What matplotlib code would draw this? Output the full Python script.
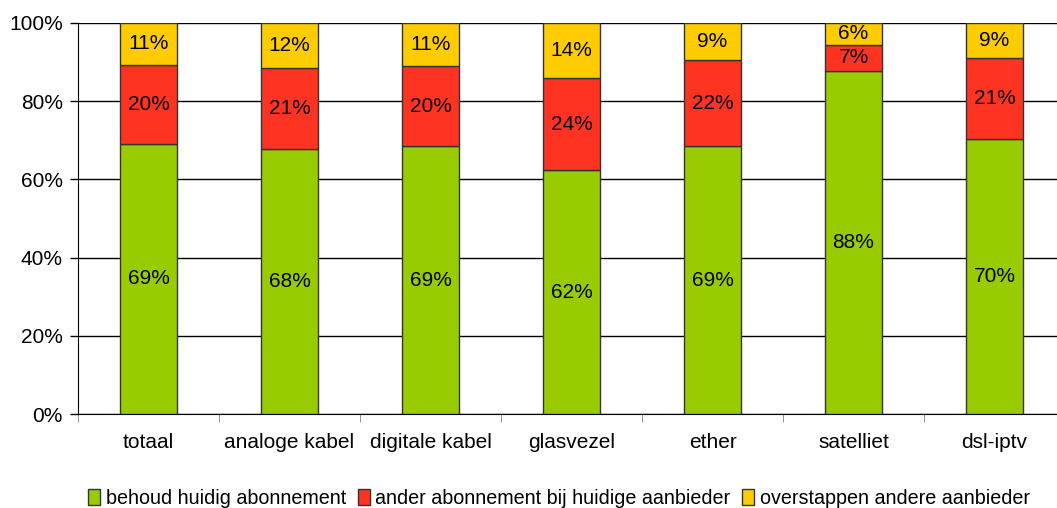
import numpy as np
import matplotlib.pyplot as plt

plt.rcParams['font.family'] = ['Liberation Sans', 'DejaVu Sans']

categories = ['totaal', 'analoge kabel', 'digitale kabel', 'glasvezel',
              'ether', 'satelliet', 'dsl-iptv']
series_names = ['behoud huidig abonnement',
                'ander abonnement bij huidige aanbieder',
                'overstappen andere aanbieder']

# segment heights (share of 100%)
behoud = [69.1, 67.8, 68.5, 62.4, 68.5, 87.7, 70.3]
ander = [20.2, 20.7, 20.5, 23.5, 22.0, 6.7, 20.7]
overstap = [10.7, 11.5, 11.0, 14.1, 9.5, 5.6, 9.0]

# printed labels
behoud_lbl = [69, 68, 69, 62, 69, 88, 70]
ander_lbl = [20, 21, 20, 24, 22, 7, 21]
overstap_lbl = [11, 12, 11, 14, 9, 6, 9]

colors = ['#99cc00', '#ff3322', '#ffcc00']
fs = 15

fig = plt.figure(figsize=(10.57, 5.08), dpi=100)
ax = fig.add_axes([78 / 1057, 1 - 414 / 508, 987 / 1057, 391 / 508])

x = np.arange(len(categories))
bottom = np.zeros(len(categories))
for vals, lbls, col, name in zip([behoud, ander, overstap],
                                 [behoud_lbl, ander_lbl, overstap_lbl],
                                 colors, series_names):
    vals = np.array(vals)
    ax.bar(x, vals, width=0.4, bottom=bottom, color=col,
           edgecolor='#333333', linewidth=1.0, label=name, zorder=3)
    for xi, b, v, l in zip(x, bottom, vals, lbls):
        ax.text(xi, b + v / 2, f'{l}%', ha='center', va='center',
                fontsize=fs, zorder=4)
    bottom += vals

ax.set_xlim(-0.5, len(categories) - 0.5)
ax.set_ylim(0, 100)
ax.set_yticks(np.arange(0, 101, 20))
ax.set_yticklabels([f'{v}%' for v in range(0, 101, 20)], fontsize=fs)
ax.set_xticks(x)
ax.set_xticklabels(categories, fontsize=fs)
ax.set_xticks(np.arange(-0.5, len(categories)), minor=True)
ax.tick_params(axis='x', which='major', length=0, pad=14)
ax.tick_params(axis='x', which='minor', length=6, color='#808080')
ax.tick_params(axis='y', length=6, width=1, pad=5)
ax.yaxis.grid(True, color='black', linewidth=1, zorder=0)

for s in ['top', 'right']:
    ax.spines[s].set_visible(False)
ax.spines['bottom'].set_color('black')
ax.spines['left'].set_color('black')

leg = fig.legend(loc='center left', bbox_to_anchor=(80 / 1057, 1 - 498 / 508),
                 ncol=3, frameon=False, fontsize=14.2, handlelength=0.6,
                 handleheight=0.9, handletextpad=0.3, columnspacing=0.6,
                 borderaxespad=0)

fig.savefig('out.png', dpi=100)
